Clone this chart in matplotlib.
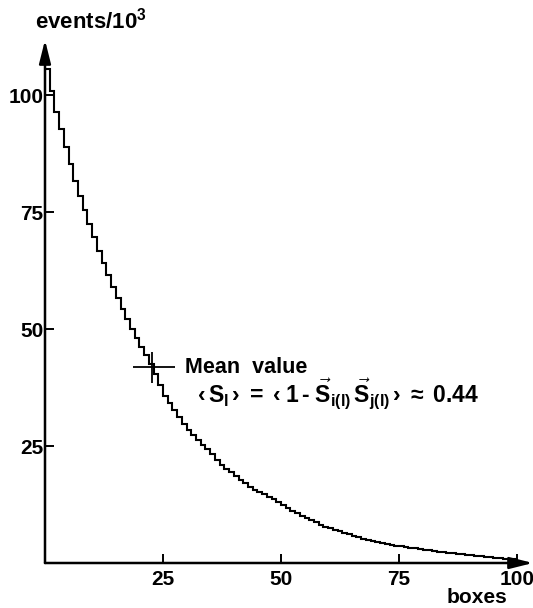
"""Events per box: stepped histogram with the mean value marked."""

import matplotlib

matplotlib.use("Agg")
import matplotlib.pyplot as plt  # noqa: E402
import numpy as np  # noqa: E402

# events (in units of 10^3) in each box, boxes 1..100
EVENTS = [
    105.5, 101.0, 96.5, 92.7, 89.0, 85.2, 81.6, 78.4, 75.5, 72.5,
    69.6, 66.8, 64.1, 61.5, 59.1, 56.7, 54.4, 52.2, 50.1, 48.1,
    46.2, 44.4, 42.5, 40.3, 38.0, 35.8, 34.3, 32.8, 31.2, 29.7,
    28.5, 27.3, 26.3, 25.3, 24.3, 23.2, 22.0, 20.9, 20.2, 19.4,
    18.6, 17.8, 17.0, 16.3, 15.7, 15.2, 14.7, 14.2, 13.6, 13.0,
    12.3, 11.7, 11.1, 10.6, 10.1, 9.7, 9.2, 8.7, 8.2, 7.8,
    7.5, 7.1, 6.75, 6.4, 6.1, 5.8, 5.5, 5.2, 4.95, 4.7,
    4.5, 4.3, 4.1, 3.9, 3.7, 3.6, 3.45, 3.3, 3.15, 3.0,
    2.85, 2.7, 2.55, 2.4, 2.3, 2.2, 2.05, 1.95, 1.85, 1.75,
    1.65, 1.55, 1.45, 1.35, 1.25, 1.15, 1.05, 0.95, 0.85, 0.75,
]
X_TICKS = [25, 50, 75, 100]
Y_TICKS = [25, 50, 75, 100]

# mean value marker and the extent of its cross arms
MEAN_BOX = 22.7
MEAN_EVENTS = 41.9
CROSS_X = [[4.0], [4.9]]
CROSS_Y = [[3.4], [3.1]]

plt.rcParams["font.family"] = ["Liberation Sans", "DejaVu Sans"]
plt.rcParams["font.weight"] = "bold"
plt.rcParams["mathtext.fontset"] = "custom"
plt.rcParams["mathtext.rm"] = "Liberation Sans:bold"
plt.rcParams["mathtext.it"] = "Liberation Sans:bold"
plt.rcParams["mathtext.bf"] = "Liberation Sans:bold"

W, H = 533, 608
fig = plt.figure(figsize=(W / 100, H / 100), dpi=100)
ax = fig.add_axes([45 / W, 45 / H, 488 / W, 523 / H])

edges = np.arange(len(EVENTS) + 1)
ax.stairs(EVENTS, edges, baseline=None, color="black", linewidth=1.5)

ax.set_xlim(0, 103.4)
ax.set_ylim(0, 111.8)

for side in ("top", "right", "left", "bottom"):
    ax.spines[side].set_visible(False)

# axes drawn as arrows
arrow = dict(arrowstyle="-|>,head_length=1.4,head_width=0.35", color="black",
             lw=1.8, shrinkA=0, shrinkB=0)
ax.annotate("", xy=(0, 1), xytext=(0, 0), xycoords="axes fraction",
            textcoords="axes fraction", arrowprops=arrow, annotation_clip=False)
ax.annotate("", xy=(1, 0), xytext=(0, 0), xycoords="axes fraction",
            textcoords="axes fraction", arrowprops=arrow, annotation_clip=False)

ax.set_xticks(X_TICKS)
ax.set_yticks(Y_TICKS)
ax.tick_params(axis="both", direction="in", length=6.5, width=1.4,
               labelsize=15)
ax.tick_params(axis="y", pad=1)
ax.tick_params(axis="x", pad=5)

ax.errorbar(MEAN_BOX, MEAN_EVENTS, xerr=CROSS_X, yerr=CROSS_Y, fmt="none",
            ecolor="black", elinewidth=1.3, capsize=0)
ax.text(29.7, 40.6, "Mean  value", fontsize=15.5, va="baseline")
ax.text(32.2, 34.4,
        r"$‹\,S_l\,›\; = \;‹\; 1\,\text{-}\;\vec{S}_{i(l)}\,\vec{S}_{j(l)}\,›\; \approx \;0.44$",
        fontsize=16.5, va="baseline")

fig.text(35 / W, 1 - 28 / H, r"events/10$^3$", fontsize=16, va="baseline")
fig.text(447 / W, 1 - 603 / H, "boxes", fontsize=15, va="baseline")

fig.savefig("out.png", dpi=100)
